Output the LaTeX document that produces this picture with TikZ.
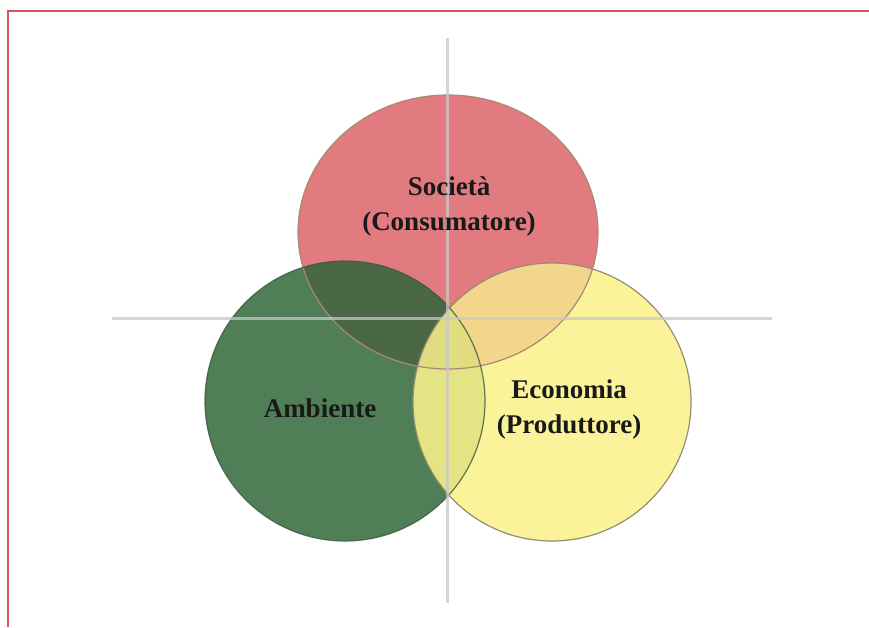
\documentclass[tikz,border=0pt]{standalone}
\usepackage{fontspec}
\setmainfont{Liberation Serif}
\definecolor{frameRed}{RGB}{214,84,98}
\definecolor{soc}{RGB}{225,123,127}
\definecolor{amb}{RGB}{80,127,87}
\definecolor{eco}{RGB}{250,243,154}
\definecolor{rg}{RGB}{74,104,70}
\definecolor{ry}{RGB}{242,214,140}
\definecolor{gy}{RGB}{228,228,132}
\definecolor{rgy}{RGB}{226,220,128}
\definecolor{edge}{RGB}{150,140,110}
\definecolor{axis}{RGB}{200,200,200}
\tikzset{
  lbl/.style={font=\bfseries\fontsize{27}{35}\selectfont, align=center, text=black!90},
  rim/.style={draw=edge, line width=1.2pt},
  axisline/.style={draw=axis, line width=3pt, opacity=0.75}
}
\begin{document}
\begin{tikzpicture}[x=1pt,y=-1pt]
\useasboundingbox (0,0) rectangle (869,627);
\fill[white] (0,0) rectangle (869,627);
\coordinate (R) at (448,232);
\coordinate (G) at (345,401);
\coordinate (Y) at (552,402);
% frame (cropped at right and bottom)
\draw[frameRed, line width=2pt] (8,627) -- (8,11) -- (869,11);
% shapes
\fill[soc] (R) ellipse [x radius=150, y radius=137];
\fill[amb] (G) circle (140);
\fill[eco] (Y) circle (139);
% overlaps
\begin{scope}\clip (R) ellipse [x radius=150, y radius=137]; \fill[rg] (G) circle (140); \fill[ry] (Y) circle (139);\end{scope}
\begin{scope}\clip (G) circle (140); \fill[gy] (Y) circle (139);\end{scope}
\begin{scope}\clip (G) circle (140); \clip (R) ellipse [x radius=150, y radius=137]; \fill[rgy] (Y) circle (139);\end{scope}
% rims
\draw[rim, draw=edge!70!soc] (R) ellipse [x radius=150, y radius=137];
\draw[rim, draw=amb!70!black, draw opacity=0.8] (G) circle (140);
\draw[rim] (Y) circle (139);
% axes
\coordinate (hl) at (112,318);
\coordinate (hr) at (772,318);
\coordinate (vt) at (447,38);
\coordinate (vb) at (447,603);
\draw[axisline] (hl) -- (hr);
\draw[axisline] (vt) -- (vb);
% labels
\node[lbl] (tsoc) at (449,206) {Società\\(Consumatore)};
\node[lbl] (tamb) at (320,408) {Ambiente};
\node[lbl] (teco) at (569,409) {Economia\\(Produttore)};
\end{tikzpicture}
\end{document}
